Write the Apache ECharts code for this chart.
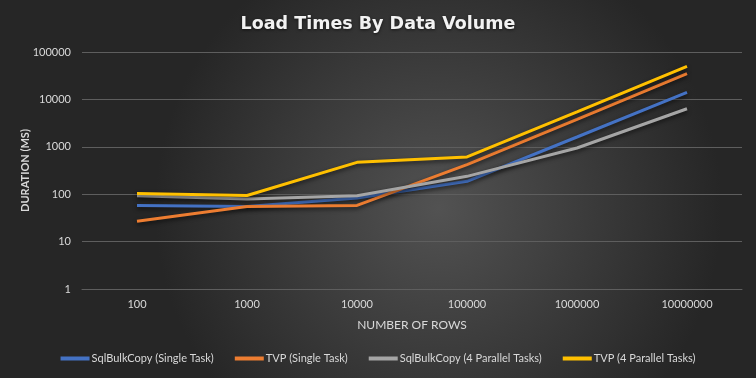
<!DOCTYPE html>
<html><head><meta charset="utf-8">
<script src="https://cdn.jsdelivr.net/npm/echarts@6/dist/echarts.min.js"></script>
<style>html,body{margin:0;padding:0;background:#262626}#c{width:756px;height:378px}</style>
</head><body><div id="c"></div>
<script>
const categories = ['100','1000','10000','100000','1000000','10000000'];
const sqlBulkSingle = [58, 55, 83, 187, 1610, 14000];
const tvpSingle = [27, 55, 58, 420, 3800, 35000];
const sqlBulkParallel = [93, 79, 93, 238, 944, 6350];
const tvpParallel = [103, 94, 470, 610, 5450, 49700];
const seriesNames = ['SqlBulkCopy (Single Task)','TVP (Single Task)','SqlBulkCopy (4 Parallel Tasks)','TVP (4 Parallel Tasks)'];
const colors = ['#4472c4','#ed7d31','#a5a5a5','#ffc000'];
const yTicks = [1,10,100,1000,10000,100000];

const chart = echarts.init(document.getElementById('c'));
const font = 'Lato';
function mk(name, data, color){
  return {name, type:'line', data, symbol:'none', smooth:false,
    lineStyle:{width:3, color, shadowColor:'rgba(0,0,0,0.6)', shadowBlur:4, shadowOffsetY:2},
    itemStyle:{color}};
}
chart.setOption({
  backgroundColor:{type:'radial', x:0.58, y:0.55, r:0.75,
    colorStops:[{offset:0,color:'#525252'},{offset:1,color:'#262626'}]},
  title:{text:'Load Times By Data Volume', left:'center', top:10,
    textStyle:{color:'#f2f2f2', fontFamily:'DejaVu Sans', fontWeight:'bold', fontSize:17.5,
      textShadowColor:'rgba(0,0,0,0.6)', textShadowBlur:3, textShadowOffsetY:1}},
  grid:{left:82, right:14, top:52, bottom:89},
  legend:{bottom:9, left:'center', itemWidth:29, itemHeight:4, itemGap:21,
    icon:'rect', data:seriesNames,
    textStyle:{color:'#d9d9d9', fontFamily:font, fontSize:11, padding:[0,0,0,-3]}},
  xAxis:{type:'category', data:categories, boundaryGap:true,
    name:'NUMBER OF ROWS', nameLocation:'middle', nameGap:30,
    nameTextStyle:{color:'#d9d9d9', fontFamily:font, fontSize:12},
    axisLine:{lineStyle:{color:'#5e5e5e'}}, axisTick:{show:false},
    axisLabel:{color:'#d9d9d9', fontFamily:font, fontSize:11, margin:10}},
  yAxis:{type:'log', logBase:10, min:yTicks[0], max:yTicks[yTicks.length-1],
    name:'DURATION (MS)', nameLocation:'middle', nameGap:51, nameRotate:90,
    nameMoveOverlap:false,
    nameTextStyle:{color:'#d9d9d9', fontFamily:font, fontSize:11, fontWeight:'bold'},
    axisLine:{show:false}, axisTick:{show:false},
    splitLine:{lineStyle:{color:'#5e5e5e', width:1}},
    axisLabel:{color:'#d9d9d9', fontFamily:font, fontSize:11, margin:11,
      formatter:v=>String(Math.round(v))}},
  series:[mk(seriesNames[0], sqlBulkSingle, colors[0]), mk(seriesNames[1], tvpSingle, colors[1]),
    mk(seriesNames[2], sqlBulkParallel, colors[2]), mk(seriesNames[3], tvpParallel, colors[3])]
});
</script></body></html>
